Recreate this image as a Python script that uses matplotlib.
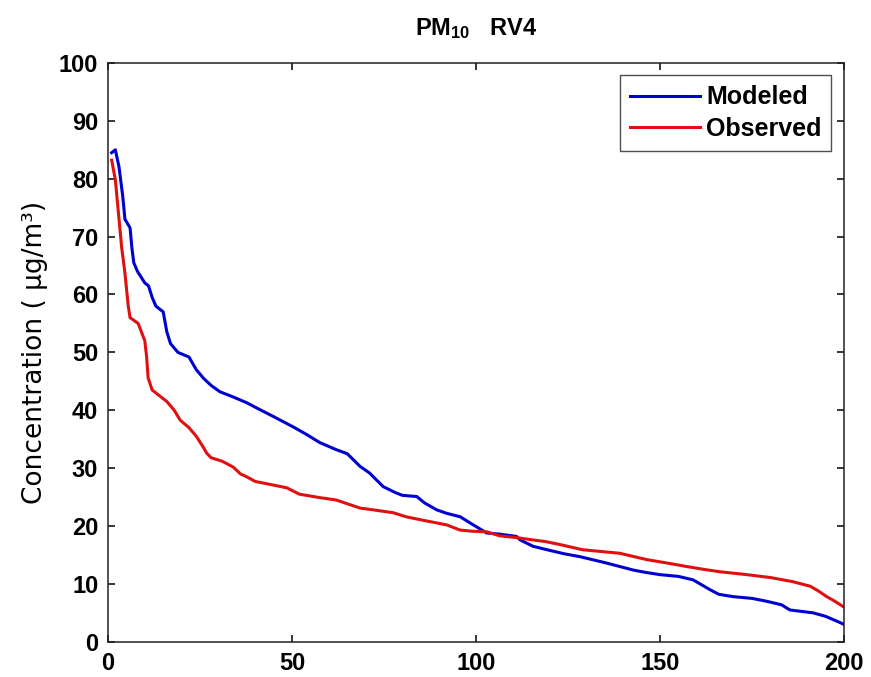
import matplotlib
matplotlib.use("Agg")
import matplotlib.pyplot as plt

# --- DATA ---
modeled_x = [1, 2, 3, 4, 4.6, 6, 6.5, 7, 8, 10, 11, 12, 13, 15, 16, 17, 19, 22, 24, 26,
             28, 30.4, 34, 37.7, 41, 45, 50.4, 54, 57.6, 62, 65, 68.5, 71, 74.8, 78, 80,
             83.9, 86, 89.3, 92, 95.7, 99, 102.9, 106.5, 111, 112, 115.5, 120, 124, 128.3,
             135.5, 142.7, 146, 150, 155, 159, 163.6, 166, 169.9, 175, 179, 183, 185.3,
             191.6, 195, 199, 200]
modeled_y = [84.5, 85, 82, 77, 73, 71.5, 68, 65.5, 64, 62, 61.5, 59.5, 58, 57, 53.5, 51.5,
             50, 49.2, 47, 45.5, 44.3, 43.2, 42.3, 41.3, 40.2, 38.9, 37.1, 35.8, 34.4, 33.2,
             32.5, 30.3, 29.2, 26.8, 25.8, 25.3, 25.1, 24, 22.8, 22.2, 21.6, 20.3, 18.8,
             18.6, 18.2, 17.6, 16.5, 15.8, 15.2, 14.7, 13.6, 12.4, 12.0, 11.6, 11.3, 10.7,
             9.0, 8.2, 7.8, 7.5, 7.0, 6.4, 5.5, 5.0, 4.4, 3.3, 3.0]

observed_x = [1, 2, 2.7, 3.7, 4.6, 5.5, 6, 8.2, 10, 10.5, 10.9, 12, 14, 16, 18, 19.6, 22,
              24, 26, 26.8, 28, 31, 34, 36, 37.7, 40, 44, 48.6, 52, 57.6, 62, 68.5, 72,
              77.5, 81, 84.8, 88, 92, 95.7, 99, 102.9, 106.5, 111, 115.5, 119, 122.8, 129,
              134, 139, 146.4, 152, 157.3, 162, 166.3, 173.6, 180, 186, 190.8, 193, 195.3,
              197, 199, 200]
observed_y = [83.2, 79.8, 75, 68.2, 63.7, 58, 56, 55, 52, 49.2, 45.6, 43.5, 42.5, 41.5, 40,
              38.3, 37, 35.5, 33.5, 32.6, 31.8, 31.2, 30.2, 29, 28.5, 27.7, 27.2, 26.6, 25.5,
              24.9, 24.5, 23.1, 22.8, 22.3, 21.6, 21.1, 20.7, 20.2, 19.3, 19.1, 19.0, 18.3,
              18.0, 17.6, 17.3, 16.8, 15.9, 15.6, 15.3, 14.2, 13.6, 13.0, 12.5, 12.1, 11.6,
              11.1, 10.4, 9.6, 8.8, 7.8, 7.2, 6.4, 6.0]

x_ticks = [0, 50, 100, 150, 200]
y_ticks = [0, 10, 20, 30, 40, 50, 60, 70, 80, 90, 100]

# --- STYLE ---
plt.rcParams['font.family'] = ['Liberation Sans', 'DejaVu Sans']
plt.rcParams['mathtext.fontset'] = 'custom'
plt.rcParams['mathtext.rm'] = 'Liberation Sans:bold'
plt.rcParams['mathtext.default'] = 'rm'

fig = plt.figure(figsize=(8.71, 6.77), dpi=100)
ax = fig.add_axes([0.124, 0.052, 0.845, 0.855])

ax.plot(modeled_x, modeled_y, color='#0000d0', linewidth=2.2, label='Modeled')
ax.plot(observed_x, observed_y, color='#e01010', linewidth=2.2, label='Observed')

ax.set_xlim(0, 200)
ax.set_ylim(0, 100)
ax.set_xticks(x_ticks)
ax.set_yticks(y_ticks)
ax.tick_params(direction='in', length=5, width=1.1, top=True, right=True,
               labelsize=17, pad=7)
for lbl in ax.get_xticklabels() + ax.get_yticklabels():
    lbl.set_fontweight('bold')
for sp in ax.spines.values():
    sp.set_linewidth(1.1)
    sp.set_color('#222222')

ax.set_title(r'PM$_{10}$   RV4', fontsize=17, fontweight='bold', pad=20)
ax.set_ylabel('Concentration ( µg/m³)', fontsize=19, labelpad=8,
              family=['DejaVu Sans'])

leg = ax.legend(loc='upper right', fontsize=18, handlelength=2.8, frameon=True,
                fancybox=False, borderaxespad=0.5, handletextpad=0.25,
                borderpad=0.4, labelspacing=0.3)
leg.get_frame().set_edgecolor('#222222')
leg.get_frame().set_linewidth(1.0)
for t in leg.get_texts():
    t.set_fontweight('bold')

fig.savefig('out.png', dpi=100)
